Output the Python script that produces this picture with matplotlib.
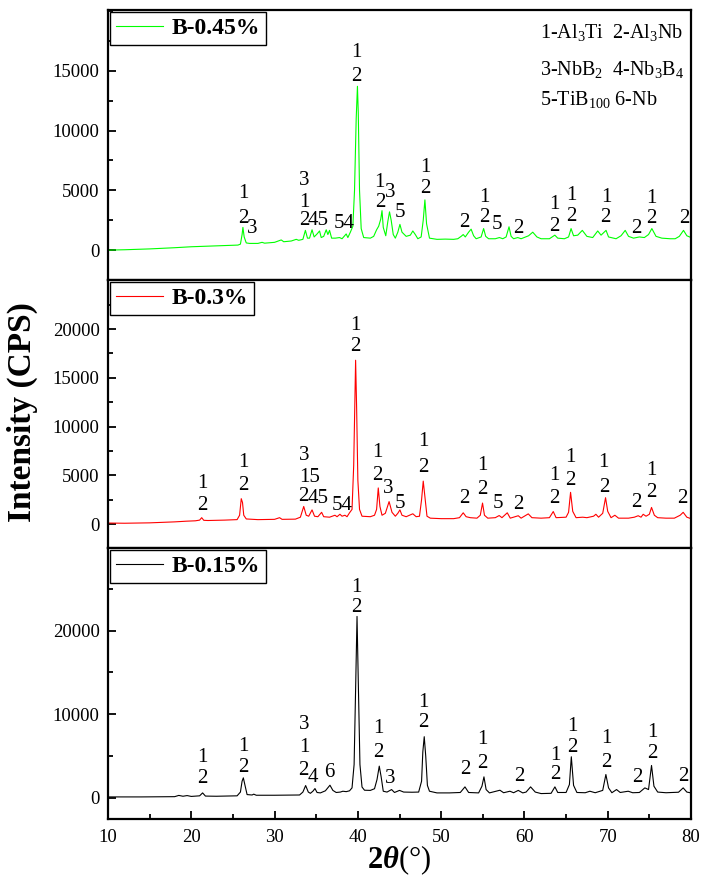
import matplotlib
matplotlib.use('Agg')
import matplotlib.pyplot as plt
from matplotlib.ticker import MultipleLocator

plt.rcParams['font.family'] = ['Liberation Serif', 'DejaVu Serif']
plt.rcParams['mathtext.fontset'] = 'custom'
plt.rcParams['mathtext.rm'] = 'Liberation Serif'
plt.rcParams['mathtext.it'] = 'Liberation Serif:italic:bold'
plt.rcParams['mathtext.bf'] = 'Liberation Serif:bold'

# ---------------- data ----------------
theta_045 = [10, 12, 15, 18, 20, 22, 24, 25.6, 25.9, 26.1, 26.2, 26.35, 26.6, 27.0,
             28.0, 28.5, 28.8, 30.0, 30.8, 31.1, 32.0, 32.6, 32.9, 33.4, 33.7, 33.95,
             34.2, 34.5, 34.75, 35.1, 35.4, 35.6, 35.9, 36.2, 36.4, 36.6, 36.85, 37.3,
             37.8, 38.1, 38.6, 38.8, 39.1, 39.4, 39.6, 39.8, 39.95, 40.05, 40.2, 40.4,
             40.7, 41.5, 41.9, 42.25, 42.5, 42.75, 42.9, 43.05, 43.35, 43.6, 43.8, 44.0,
             44.25, 44.5, 44.8, 45.05, 45.3, 45.8, 46.3, 46.6, 46.9, 47.2, 47.6, 47.85,
             48.05, 48.25, 48.6, 49.5, 50.5, 51.5, 52.0, 52.4, 52.65, 52.9, 53.3, 53.6,
             53.9, 54.2, 54.8, 55.1, 55.35, 55.7, 56.5, 57.0, 57.4, 57.8, 58.15, 58.4,
             58.7, 59.2, 59.6, 60.5, 61.0, 61.5, 62.0, 63.0, 63.65, 64.0, 64.8, 65.3,
             65.6, 65.9, 66.4, 66.95, 67.5, 68.2, 68.8, 69.2, 69.8, 70.1, 71.0, 71.6,
             72.1, 72.5, 73.1, 73.8, 74.4, 74.9, 75.3, 75.8, 76.5, 77.5, 78.1, 78.6,
             79.1, 79.5, 80.0]
int_045 = [0, 30, 100, 200, 280, 330, 380, 420, 500, 1300, 1900, 1100, 600, 560,
           560, 650, 580, 650, 850, 700, 760, 900, 820, 900, 1650, 1000,
           1000, 1700, 1100, 1350, 1600, 1050, 1150, 1700, 1300, 1650, 1000, 1000,
           1050, 950, 1350, 1050, 1500, 2000, 5000, 11000, 13700, 11500, 5000, 1800,
           1050, 1000, 1150, 1700, 2000, 2600, 3300, 1900, 1200, 2400, 3200, 2500,
           1300, 1000, 1500, 2150, 1500, 1150, 1250, 1600, 1300, 950, 1100, 2500,
           4200, 2200, 1000, 900, 920, 900, 950, 1150, 1300, 1100, 1500, 1750,
           1200, 950, 1100, 1800, 1150, 950, 950, 1050, 950, 1100, 1950, 1150,
           950, 1050, 950, 1200, 1500, 1100, 950, 950, 1250, 1000, 950, 1100,
           1800, 1200, 1250, 1650, 1150, 1050, 1600, 1250, 1650, 1100, 950, 1200,
           1650, 1150, 1000, 1100, 1050, 1300, 1800, 1150, 1000, 950, 950, 1150,
           1650, 1200, 1050]

theta_03 = [10, 12, 15, 18, 19.4, 20.5, 21.0, 21.25, 21.5, 22, 24, 25.5, 25.8, 26.0,
            26.15, 26.3, 26.6, 28, 30.0, 30.6, 30.9, 32.5, 33.1, 33.5, 33.8, 34.1,
            34.5, 34.8, 35.2, 35.65, 35.9, 36.6, 37.25, 37.5, 37.85, 38.1, 38.45, 38.7,
            39.0, 39.3, 39.5, 39.65, 39.73, 39.85, 40.0, 40.2, 40.5, 41.5, 42.0, 42.25,
            42.45, 42.65, 42.9, 43.3, 43.75, 44.1, 44.5, 44.8, 45.05, 45.3, 45.8, 46.6,
            47.0, 47.4, 47.65, 47.85, 48.05, 48.3, 48.7, 50, 51.5, 52.2, 52.65, 53.0,
            53.5, 54.3, 54.7, 54.97, 55.2, 55.6, 56.5, 56.97, 57.3, 57.94, 58.3, 59.26,
            59.6, 60.46, 60.9, 62.0, 63.0, 63.46, 63.8, 65.0, 65.3, 65.54, 65.8, 66.2,
            67.0, 67.5, 68.3, 68.58, 68.9, 69.4, 69.74, 70.0, 70.4, 70.86, 71.3, 72.5,
            73.2, 73.66, 74.0, 74.26, 74.6, 75.0, 75.26, 75.6, 76.0, 77.0, 78.0, 78.7,
            79.06, 79.5, 80]
int_03 = [100, 80, 120, 220, 290, 330, 400, 650, 380, 360, 400, 450, 900, 2600,
          2200, 900, 520, 450, 480, 650, 480, 500, 700, 1800, 900, 800,
          1450, 800, 750, 1200, 750, 700, 900, 750, 1000, 800, 900, 750,
          1150, 1500, 6000, 13000, 16800, 12000, 4500, 1500, 800, 750, 900, 1500,
          3700, 1800, 900, 1100, 2300, 1200, 800, 1100, 1450, 900, 750, 1050,
          750, 800, 2500, 4400, 2800, 800, 600, 550, 550, 650, 1150, 750,
          650, 600, 900, 2150, 900, 600, 650, 870, 650, 1150, 600, 850,
          600, 1040, 650, 600, 650, 1280, 650, 700, 1200, 3250, 1300, 650,
          700, 650, 800, 1000, 700, 1100, 2700, 1300, 650, 900, 600, 600,
          700, 850, 700, 1000, 800, 1000, 1700, 900, 650, 600, 600, 900,
          1200, 700, 550]

theta_015 = [10, 14, 18, 18.5, 19.0, 19.5, 20, 21.0, 21.36, 21.7, 23, 25.5, 25.9, 26.1,
             26.25, 26.45, 26.7, 27.3, 27.5, 27.8, 30, 33.0, 33.4, 33.73, 34.05, 34.3,
             34.6, 34.85, 35.1, 35.5, 36.1, 36.65, 37.0, 37.4, 37.9, 38.2, 38.6, 39.0,
             39.3, 39.55, 39.75, 39.9, 40.05, 40.25, 40.5, 40.8, 41.5, 42.0, 42.3, 42.57,
             42.8, 43.05, 43.5, 44.05, 44.4, 45, 45.5, 46.5, 47.3, 47.65, 47.8, 47.97,
             48.15, 48.35, 48.6, 49.5, 51.0, 52.3, 52.86, 53.3, 54.5, 54.9, 55.14, 55.4,
             55.8, 57.06, 57.5, 58.26, 58.7, 59.26, 59.8, 60.2, 60.74, 61.3, 62, 63.2,
             63.66, 64.0, 65.0, 65.4, 65.63, 65.9, 66.3, 67.3, 67.86, 68.5, 69.4, 69.78,
             70.1, 70.5, 71.06, 71.5, 72.46, 73.0, 73.8, 74.46, 74.9, 75.26, 75.55, 76.0,
             77.0, 78.5, 79.06, 79.5, 80.0]
int_015 = [120, 120, 150, 300, 200, 280, 180, 250, 600, 220, 200, 250, 700, 2000,
           2400, 1500, 400, 350, 450, 320, 320, 350, 700, 1480, 700, 550,
           800, 1120, 650, 600, 850, 1520, 900, 650, 700, 800, 750, 850,
           1200, 4000, 14000, 21700, 14000, 4000, 1300, 920, 900, 1100, 2200, 3800,
           2500, 800, 700, 1000, 650, 900, 700, 680, 700, 2000, 5500, 7320,
           5000, 1500, 800, 600, 600, 650, 1320, 650, 600, 1400, 2520, 1000,
           600, 920, 620, 800, 620, 900, 600, 700, 1320, 700, 520, 550,
           1320, 650, 650, 1600, 4920, 1500, 650, 620, 800, 620, 900, 2800,
           1200, 620, 1000, 650, 800, 620, 650, 1200, 1000, 3880, 1400, 700,
           620, 680, 1200, 700, 600]

series_names = ['B-0.45%', 'B-0.3%', 'B-0.15%']
series_colors = ['#00FF00', '#FF0000', '#000000']

# peak labels: (2theta, intensity, text)
labels_045 = [(26.21, 4771, '1'), (26.21, 2678, '2'), (27.29, 1841, '3'),
              (33.53, 5859, '3'), (33.53, 4018, '1'), (33.53, 2511, '2'), (35.21, 2511, '45'),
              (38.33, 2260, '54'), (39.85, 16489, '1'), (39.85, 14480, '2'),
              (42.55, 5692, '1'), (42.7, 4018, '2'), (43.9, 4855, '3'), (45.05, 3181, '5'),
              (48.1, 6947, '1'), (48.1, 5189, '2'), (52.74, 2344, '2'),
              (55.2, 4436, '1'), (55.2, 2762, '2'), (56.7, 2176, '5'), (59.22, 1841, '2'),
              (63.54, 3850, '1'), (63.54, 2009, '2'), (65.65, 4604, '1'), (65.6, 2846, '2'),
              (69.8, 4436, '1'), (69.7, 2762, '2'), (73.39, 1841, '2'),
              (75.3, 4352, '1'), (75.2, 2678, '2'), (79.15, 2678, '2')]
labels_03 = [(21.28, 4207, '1'), (21.28, 1949, '2'), (26.21, 6259, '1'), (26.21, 4001, '2'),
             (33.53, 7079, '3'), (34.17, 4822, '15'), (33.45, 2873, '2'), (35.17, 2668, '45'),
             (38.09, 1949, '54'), (39.75, 20315, '1'), (39.7, 18160, '2'),
             (42.29, 7285, '1'), (42.29, 5027, '2'), (43.61, 3694, '3'), (45.05, 2155, '5'),
             (47.82, 8413, '1'), (47.82, 5848, '2'), (52.74, 2668, '2'),
             (54.9, 6053, '1'), (54.9, 3591, '2'), (56.82, 2155, '5'), (59.22, 2052, '2'),
             (63.6, 5027, '1'), (63.54, 2668, '2'), (65.55, 6772, '1'), (65.46, 4514, '2'),
             (69.45, 6361, '1'), (69.54, 3796, '2'), (73.39, 2257, '2'),
             (75.3, 5540, '1'), (75.2, 3283, '2'), (78.91, 2668, '2')]
labels_015 = [(21.28, 4800, '1'), (21.28, 2280, '2'), (26.21, 6120, '1'), (26.21, 3600, '2'),
              (33.53, 8760, '3'), (33.53, 6000, '1'), (33.45, 3240, '2'), (34.61, 2400, '4'),
              (36.53, 3000, '6'), (39.85, 25200, '1'), (39.8, 22800, '2'),
              (42.41, 8280, '1'), (42.41, 5400, '2'), (43.85, 2280, '3'),
              (47.82, 11400, '1'), (47.82, 9000, '2'), (52.86, 3360, '2'),
              (54.95, 6960, '1'), (55.0, 4080, '2'), (59.34, 2520, '2'),
              (63.75, 5040, '1'), (63.66, 2760, '2'), (65.8, 8520, '1'), (65.7, 6000, '2'),
              (69.85, 7080, '1'), (69.78, 4200, '2'), (73.51, 2400, '2'),
              (75.4, 7800, '1'), (75.3, 5280, '2'), (79.03, 2520, '2')]

phase_lines = [r'1-Al$_3$Ti  2-Al$_3$Nb',
               r'3-NbB$_2$  4-Nb$_3$B$_4$',
               r'5-TiB$_{100}$ 6-Nb']

# ---------------- layout ----------------
W, H = 709, 886
fig = plt.figure(figsize=(W / 100, H / 100), dpi=100)


def rect(top, bottom):
    return [108 / W, 1 - bottom / H, 583 / W, (bottom - top) / H]


axes = [fig.add_axes(rect(10, 280)), fig.add_axes(rect(280, 548)), fig.add_axes(rect(548, 819))]
ylims = [(-2500, 20080), (-2460, 25030), (-2520, 29880)]
ymaj = [5000, 5000, 10000]
ymin_ = [2500, 2500, 5000]
ymaxlab = [15000, 20000, 20000]
thetas = [theta_045, theta_03, theta_015]
ints = [int_045, int_03, int_015]
labels = [labels_045, labels_03, labels_015]

for i, ax in enumerate(axes):
    ax.plot(thetas[i], ints[i], color=series_colors[i], lw=0.8, label=series_names[i])
    ax.set_xlim(10, 80)
    ax.set_ylim(*ylims[i])
    ax.yaxis.set_major_locator(MultipleLocator(ymaj[i]))
    ax.yaxis.set_minor_locator(MultipleLocator(ymin_[i]))
    ax.set_yticks([v for v in range(0, ymaxlab[i] + 1, ymaj[i])])
    ax.tick_params(axis='y', which='major', direction='in', length=6, width=1.3,
                   labelsize=13.5, pad=6, right=False)
    ax.tick_params(axis='y', which='minor', direction='in', length=3.5, width=1.3, right=False)
    for s in ax.spines.values():
        s.set_linewidth(1.6)
    for (tx, ty, tt) in labels[i]:
        ax.text(tx, ty, tt, ha='center', va='center', fontsize=15)
    leg = ax.legend(loc='upper left', bbox_to_anchor=(0.0034, 0.993), borderaxespad=0,
                    handlelength=2.0, handletextpad=0.35, borderpad=0.25,
                    fancybox=False, framealpha=1, edgecolor='black',
                    prop={'family': 'Liberation Serif', 'weight': 'bold', 'size': 17})
    leg.get_frame().set_linewidth(1.0)
    if i < 2:
        ax.tick_params(axis='x', which='both', bottom=False, top=False, labelbottom=False)
    else:
        ax.xaxis.set_major_locator(MultipleLocator(10))
        ax.xaxis.set_minor_locator(MultipleLocator(5))
        ax.tick_params(axis='x', which='major', direction='in', length=6, width=1.3,
                       labelsize=13.5, pad=7, top=False)
        ax.tick_params(axis='x', which='minor', direction='in', length=3.5, width=1.3, top=False)

# phase legend text in the top panel
phase_y = [18163, 15066, 12555]
for line, yv in zip(phase_lines, phase_y):
    axes[0].text(61.86, yv, line, ha='left', va='center', fontsize=14.5)

fig.text(22 / W, 1 - 412 / H, 'Intensity (CPS)', rotation=90, ha='center', va='center',
         fontsize=24, fontweight='bold')
fig.text(399 / W, 1 - 860 / H, r'$\mathbf{2}\theta$(°)', ha='center', va='center', fontsize=22)

fig.savefig('out.png', dpi=100)
